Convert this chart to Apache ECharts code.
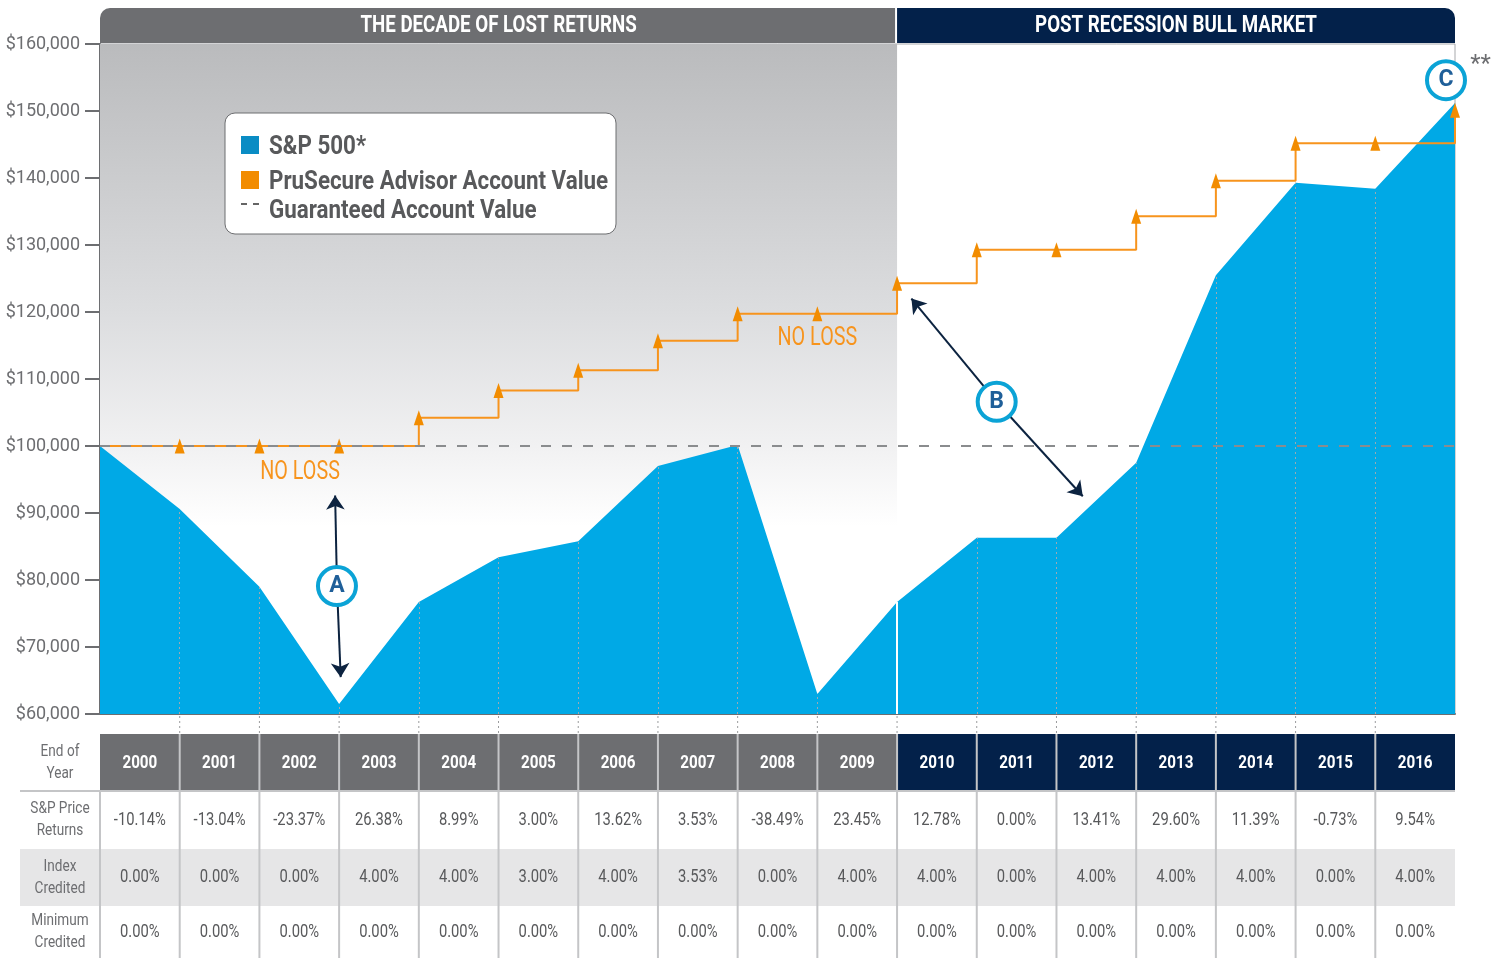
<!DOCTYPE html>
<html>
<head>
<meta charset="utf-8">
<title>PruSecure Advisor vs S&amp;P 500</title>
<script src="https://cdn.jsdelivr.net/npm/echarts@6/dist/echarts.min.js"></script>
<style>
  html, body { margin: 0; padding: 0; background: #fff; }
  #main { width: 1504px; height: 958px; }
</style>
</head>
<body>
<div id="main"></div>
<script>
// end of year columns
var years = ['2000', '2001', '2002', '2003', '2004', '2005', '2006', '2007', '2008', '2009',
             '2010', '2011', '2012', '2013', '2014', '2015', '2016'];
// point 0 = start value, point i = end of years[i-1]
var spValue = [100000, 90600, 79000, 61500, 76700, 83400, 85800, 97000, 100150, 63000,
               76700, 86300, 86300, 97500, 125500, 139300, 138400, 151200];
var accountValue = [100000, 100000, 100000, 100000, 104200, 108300, 111300, 115700, 119750, 119750,
                    124300, 129300, 129300, 134300, 139600, 145200, 145200, 150100];
var guaranteedValue = 100000;

var spReturns = ['-10.14%', '-13.04%', '-23.37%', '26.38%', '8.99%', '3.00%', '13.62%', '3.53%', '-38.49%', '23.45%',
                 '12.78%', '0.00%', '13.41%', '29.60%', '11.39%', '-0.73%', '9.54%'];
var indexCredited = ['0.00%', '0.00%', '0.00%', '4.00%', '4.00%', '3.00%', '4.00%', '3.53%', '0.00%', '4.00%',
                     '4.00%', '0.00%', '4.00%', '4.00%', '4.00%', '0.00%', '4.00%'];
var minimumCredited = ['0.00%', '0.00%', '0.00%', '0.00%', '0.00%', '0.00%', '0.00%', '0.00%', '0.00%', '0.00%',
                       '0.00%', '0.00%', '0.00%', '0.00%', '0.00%', '0.00%', '0.00%'];
var rowLabels = ['End of\nYear', 'S&P Price\nReturns', 'Index\nCredited', 'Minimum\nCredited'];
var periods = ['THE DECADE OF LOST RETURNS', 'POST RECESSION BULL MARKET'];
var legendNames = ['S&P 500*', 'PruSecure Advisor Account Value', 'Guaranteed Account Value'];
var periodSplit = 10; // 2010 starts the bull market

var yMin = 60000, yMax = 160000, yStep = 10000;

var FONT = "Roboto, 'Liberation Sans', 'Noto Sans', sans-serif";
var GRAY = '#6d6e71';
var TEXT = '#58595b';
var NAVY = '#03214a';
var BLUE = '#00a9e6';
var ORANGE = '#f7941d';

var myChart = echarts.init(document.getElementById('main'));

var spData = spValue.map(function (v, i) { return [i, v]; });
var accData = accountValue.map(function (v, i) {
  return i === 0 ? { value: [i, v], symbol: 'none' } : [i, v];
});

// dotted year lines inside the blue area
var yearLines = [];
spValue.forEach(function (v, i) {
  if (i === 0 || i === spValue.length - 1) return;
  yearLines.push([
    { coord: [i, yMin], lineStyle: i === periodSplit ? { color: '#fff', type: 'solid', width: 2, opacity: 1 } : undefined },
    { coord: [i, v] }
  ]);
});

var option = {
  animation: false,
  grid: {
    left: 100, right: 49, top: 44, bottom: 244,
    show: true, borderColor: '#a7a9ac', borderWidth: 1, backgroundColor: 'transparent'
  },
  xAxis: {
    type: 'value', min: 0, max: years.length, interval: 1,
    axisLine: { lineStyle: { color: GRAY, width: 2 } },
    axisTick: { show: false },
    axisLabel: { show: false },
    splitLine: { show: false }
  },
  yAxis: {
    type: 'value', min: yMin, max: yMax, interval: yStep,
    axisLine: { show: true, lineStyle: { color: GRAY, width: 2 } },
    axisTick: { show: true, length: 15, lineStyle: { color: GRAY, width: 2 } },
    axisLabel: {
      margin: 20, color: GRAY, fontSize: 18, fontFamily: FONT,
      formatter: function (v) { return '$' + v.toLocaleString('en-US'); }
    },
    splitLine: { show: false }
  },
  series: [
    {
      // grey backdrop behind the lost decade
      name: 'bg', type: 'line', data: [], silent: true, z: 0,
      markArea: {
        silent: true,
        itemStyle: {
          color: new echarts.graphic.LinearGradient(0, 0, 0, 1, [
            { offset: 0, color: '#babbbd' },
            { offset: 0.4, color: '#dcdddf' },
            { offset: 0.6, color: '#f1f1f2' },
            { offset: 0.72, color: '#ffffff' }
          ])
        },
        data: [[{ coord: [0, yMax] }, { coord: [periodSplit, yMin] }]]
      }
    },
    {
      name: 'S&P 500*', type: 'line', data: spData, symbol: 'none', z: 2,
      lineStyle: { width: 0 },
      areaStyle: { color: BLUE, opacity: 1, origin: 'start' },
      markLine: {
        silent: true, symbol: 'none', label: { show: false },
        lineStyle: { color: '#9aa9b4', type: [2, 3], width: 1 },
        data: yearLines
      }
    },
    {
      name: 'PruSecure Advisor Account Value', type: 'line', step: 'end', data: accData, z: 4,
      symbol: 'triangle', symbolSize: [10, 15],
      itemStyle: { color: '#f28c00' },
      lineStyle: { color: ORANGE, width: 2 }
    },
    {
      name: 'Guaranteed Account Value', type: 'line', z: 5, symbol: 'none',
      data: [[0, guaranteedValue], [years.length, guaranteedValue]],
      lineStyle: { color: '#8a8c8e', width: 2, type: [10, 11] }
    },
    {
      // arrows A and B
      name: 'arrows', type: 'line', data: [], z: 6,
      markLine: {
        silent: true, symbol: ['none', 'arrow'], symbolSize: 14,
        label: { show: false },
        lineStyle: { color: '#0c2340', width: 2, type: 'solid' },
        data: [
          [{ coord: [2.973, 79100] }, { coord: [2.95, 92600] }],
          [{ coord: [2.973, 79100] }, { coord: [3.02, 65500] }],
          [{ coord: [11.25, 106600] }, { coord: [10.18, 122000] }],
          [{ coord: [11.25, 106600] }, { coord: [12.33, 92500] }]
        ]
      }
    },
    {
      name: 'notes', type: 'line', data: [], z: 7,
      markPoint: {
        silent: true,
        data: [
          { name: 'A', coord: [2.973, 79100] },
          { name: 'B', coord: [11.25, 106600] },
          { name: 'C', coord: [16.887, 154600] }
        ],
        symbol: 'circle', symbolSize: 38,
        itemStyle: { color: '#fff', borderColor: '#0ba3d6', borderWidth: 4 },
        label: {
          show: true, position: 'inside', formatter: '{b}',
          color: '#1f5f99', fontSize: 23, fontWeight: 'bold', fontFamily: FONT
        }
      }
    }
  ]
};
myChart.setOption(option);

// table, header bars, notes and legend drawn from the axis positions
function toPx(xv, yv) { return myChart.convertToPixel({ gridIndex: 0 }, [xv, yv]); }
function px(i) { return toPx(i, yMin); }
var x0 = px(0)[0], xs = px(periodSplit)[0], xe = px(years.length)[0];
var axisY = px(0)[1];

// condensed look: squeeze text horizontally
function txt(x, y, text, font, fill, align, sx, extra) {
  var st = { text: text, fill: fill, font: font, align: align || 'center', verticalAlign: 'middle' };
  if (extra) for (var k in extra) st[k] = extra[k];
  return { type: 'text', x: x, y: y, scaleX: sx || 1, style: st };
}

var g = [];
// period header bars
g.push({ type: 'rect', shape: { x: x0, y: 8, width: xs - x0 - 2, height: 35, r: [10, 0, 0, 0] }, style: { fill: GRAY } });
g.push({ type: 'rect', shape: { x: xs, y: 8, width: xe - xs, height: 35, r: [0, 10, 0, 0] }, style: { fill: NAVY } });
g.push(txt((x0 + xs) / 2, 26, periods[0], 'bold 24px ' + FONT, '#fff', 'center', 0.78));
g.push(txt((xs + xe) / 2, 26, periods[1], 'bold 24px ' + FONT, '#fff', 'center', 0.78));

// legend box
g.push({ type: 'rect', shape: { x: 225, y: 113, width: 391, height: 121, r: 10 }, style: { fill: '#fff', stroke: GRAY, lineWidth: 1 } });
g.push({ type: 'rect', shape: { x: 241, y: 136, width: 18, height: 18 }, style: { fill: '#0a8cc4' } });
g.push({ type: 'rect', shape: { x: 241, y: 171, width: 18, height: 18 }, style: { fill: '#f28c00' } });
g.push({ type: 'line', shape: { x1: 241, y1: 204, x2: 259, y2: 204 }, style: { stroke: '#333', lineWidth: 1.5, lineDash: [6, 6] } });
[147, 182, 211].forEach(function (yy, i) {
  g.push(txt(269, yy, legendNames[i], 'bold 26px ' + FONT, TEXT, 'left', 0.86));
});

// NO LOSS notes and the ** mark
var n1 = toPx(2.51, 96000), n2 = toPx(9.0, 116000), st = toPx(17.32, 156800);
g.push(txt(n1[0], n1[1], 'NO LOSS', '26px ' + FONT, ORANGE, 'center', 0.76));
g.push(txt(n2[0], n2[1], 'NO LOSS', '26px ' + FONT, ORANGE, 'center', 0.76));
g.push(txt(st[0], st[1], '**', '24px ' + FONT, GRAY, 'center', 1));

// table
var rowTop = [734, 791, 849, 906, 958];
g.push({ type: 'rect', shape: { x: 20, y: rowTop[2], width: xe - 20, height: rowTop[3] - rowTop[2] }, style: { fill: '#e6e6e7' } });
years.forEach(function (yr, k) {
  var a = px(k)[0], b = px(k + 1)[0], c = (a + b) / 2;
  g.push({ type: 'rect', shape: { x: a, y: rowTop[0], width: b - a, height: rowTop[1] - rowTop[0] }, style: { fill: k < periodSplit ? GRAY : NAVY } });
  g.push(txt(c, (rowTop[0] + rowTop[1]) / 2 + 1, yr, 'bold 19px ' + FONT, '#fff', 'center', 0.8));
  [spReturns, indexCredited, minimumCredited].forEach(function (row, r) {
    g.push(txt(c, (rowTop[r + 1] + rowTop[r + 2]) / 2, row[k], '18px ' + FONT, TEXT, 'center', 0.82));
  });
});
rowLabels.forEach(function (lab, r) {
  g.push(txt(60, (rowTop[r] + rowTop[r + 1]) / 2, lab, '17px ' + FONT, GRAY, 'center', 0.8, { lineHeight: 22 }));
});
g.push({ type: 'line', shape: { x1: 20, y1: rowTop[1], x2: xe, y2: rowTop[1] }, style: { stroke: '#c4c5c7', lineWidth: 2 } });
for (var k = 0; k < years.length; k++) {
  var xx = px(k)[0];
  g.push({ type: 'line', shape: { x1: xx, y1: k === 0 ? rowTop[1] : rowTop[0], x2: xx, y2: rowTop[4] }, style: { stroke: '#c4c5c7', lineWidth: 2 } });
  if (k > 0) {
    g.push({ type: 'line', shape: { x1: xx, y1: axisY + 2, x2: xx, y2: rowTop[0] }, style: { stroke: '#9a9b9d', lineWidth: 1, lineDash: [2, 3] } });
  }
}

myChart.setOption({ graphic: { elements: g.map(function (e) { e.silent = true; e.z = 100; return e; }) } });
</script>
</body>
</html>
